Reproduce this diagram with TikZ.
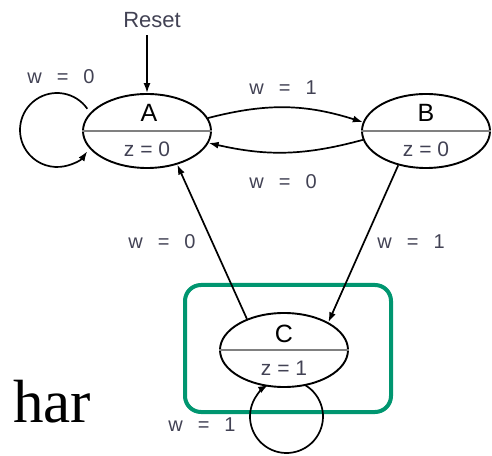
\documentclass[tikz,border=0pt]{standalone}
\usepackage{fontspec}
\setsansfont{Liberation Sans}
\newfontfamily\harfont{Liberation Serif}
\usetikzlibrary{shapes.geometric,arrows.meta}

\definecolor{boxgreen}{RGB}{0,150,112}
\definecolor{labelgray}{RGB}{66,66,84}

\tikzset{
  state/.style={draw, line width=1.9pt, ellipse, minimum width=128pt, minimum height=74pt, inner sep=0pt},
  trans/.style={-{Latex[length=10pt,width=7pt]}, line width=1.7pt},
  lbl/.style={font=\sffamily\fontsize{20}{20}\selectfont, text=labelgray},
  outlbl/.style={font=\sffamily\fontsize{21}{21}\selectfont, text=labelgray},
  namelbl/.style={font=\sffamily\fontsize{25}{25}\selectfont},
}
\newcommand{\wis}[1]{w\hspace{0.75em}=\hspace{0.75em}#1}

\begin{document}
\begin{tikzpicture}[x=1pt,y=1pt]
    \useasboundingbox (0,0) rectangle (492,455);

    % highlight round state C
    \draw[boxgreen, line width=4pt, rounded corners=16pt] (185,43) rectangle (391,170);

    \node[state] (A) at (147,324) {};
    \node[state] (B) at (426,324) {};
    \node[state] (C) at (284,105) {};

    \draw[gray, line width=1.6pt] (A.west) -- (A.east);
    \draw[gray, line width=1.6pt] (B.west) -- (B.east);
    \draw[gray, line width=1.6pt] (C.west) -- (C.east);

    \node[namelbl] at ([xshift=2pt,yshift=18pt]A.center) {A};
    \node[outlbl] at ([yshift=-18pt]A.center) {z = 0};
    \node[namelbl] at ([yshift=18pt]B.center) {B};
    \node[outlbl] at ([yshift=-18pt]B.center) {z = 0};
    \node[namelbl] at ([yshift=16pt]C.center) {C};
    \node[outlbl] at ([yshift=-18pt]C.center) {z = 1};

    \node[font=\sffamily\fontsize{22}{22}\selectfont, text=labelgray] (reset) at (152,435) {Reset};
    \draw[trans, shorten <=4pt] (reset.south -| A.north) -- (A);

    % self loops
    \coordinate (Aloop) at (57,325);
    \draw[trans] ([shift={(35:37)}]Aloop) arc[start angle=35, end angle=325, radius=37];
    \coordinate (Cloop) at (286.5,38.5);
    \draw[trans] ([shift={(60:36.5)}]Cloop) arc[start angle=60, end angle=-240, radius=36.5];

    \draw[trans] (A.12) to[bend left=16] (B.172);
    \draw[trans] (B.188) to[bend left=14] (A.349);
    \draw[trans] (C.140) -- (A.312);
    \draw[trans] (B.231) -- (C.32);

    \node[lbl] at (61,378) {\wis{0}};
    \node[lbl] at (283,367) {\wis{1}};
    \node[lbl] at (283,273) {\wis{0}};
    \node[lbl] at (162,213) {\wis{0}};
    \node[lbl] at (411,213) {\wis{1}};
    \node[lbl] at (202,30) {\wis{1}};

    \node[anchor=base west, inner sep=0pt, font=\harfont\fontsize{61}{61}\selectfont] (har) at (13,33) {har};
\end{tikzpicture}
\end{document}
